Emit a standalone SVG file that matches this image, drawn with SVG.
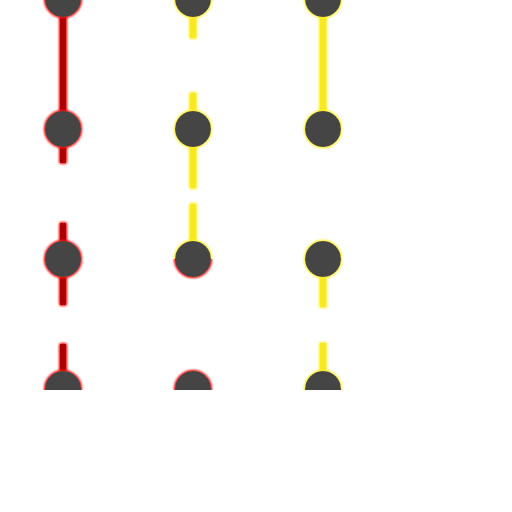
<svg xmlns="http://www.w3.org/2000/svg" width="512" height="512" viewBox="0 0 512 512">
  <defs>
    <filter id="glowR" filterUnits="userSpaceOnUse" x="-20" y="-60" width="552" height="632">
      <feGaussianBlur in="SourceAlpha" stdDeviation="1.5" result="b"/>
      <feFlood flood-color="#ff1a1a"/>
      <feComposite in2="b" operator="in" result="g"/>
      <feMerge><feMergeNode in="g"/><feMergeNode in="g"/><feMergeNode in="g"/><feMergeNode in="SourceGraphic"/></feMerge>
    </filter>
    <filter id="glowY" filterUnits="userSpaceOnUse" x="-20" y="-60" width="552" height="632">
      <feGaussianBlur in="SourceAlpha" stdDeviation="1.5" result="b"/>
      <feFlood flood-color="#fff030"/>
      <feComposite in2="b" operator="in" result="g"/>
      <feMerge><feMergeNode in="g"/><feMergeNode in="g"/><feMergeNode in="g"/><feMergeNode in="SourceGraphic"/></feMerge>
    </filter>
    <clipPath id="view"><rect x="0" y="0" width="512" height="390"/></clipPath>
    <clipPath id="topHalf"><rect x="160" y="220" width="70" height="39"/></clipPath>
    <clipPath id="botHalf"><rect x="160" y="259" width="70" height="40"/></clipPath>
  </defs>
  <style>
    .red { stroke: #aa0000; stroke-width: 6; fill: none; filter: url(#glowR); }
    .yel { stroke: #f8e820; stroke-width: 6; fill: none; filter: url(#glowY); }
    .node { fill: #444444; }
    .nr { filter: url(#glowR); }
    .ny { filter: url(#glowY); }
  </style>
  <rect width="512" height="512" fill="#ffffff"/>
  <g clip-path="url(#view)">
    <g id="connectors">
      <line class="red" x1="63" y1="-1" x2="63" y2="163"/>
      <line class="red" x1="63" y1="223" x2="63" y2="305"/>
      <line class="red" x1="63" y1="344" x2="63" y2="389"/>
      <line class="yel" x1="193" y1="-1" x2="193" y2="38"/>
      <line class="yel" x1="193" y1="93" x2="193" y2="188"/>
      <line class="yel" x1="193" y1="204" x2="193" y2="259"/>
      <line class="yel" x1="323" y1="-1" x2="323" y2="129"/>
      <line class="yel" x1="323" y1="259" x2="323" y2="307"/>
      <line class="yel" x1="323" y1="343" x2="323" y2="389"/>
    </g>
    <g id="n00" class="nr"><circle class="node" cx="63" cy="-1" r="18"/></g>
    <g id="n01" class="ny"><circle class="node" cx="193" cy="-1" r="18"/></g>
    <g id="n02" class="ny"><circle class="node" cx="323" cy="-1" r="18"/></g>
    <g id="n10" class="nr"><circle class="node" cx="63" cy="129" r="18"/></g>
    <g id="n11" class="ny"><circle class="node" cx="193" cy="129" r="18"/></g>
    <g id="n12" class="ny"><circle class="node" cx="323" cy="129" r="18"/></g>
    <g id="n20" class="nr"><circle class="node" cx="63" cy="259" r="18"/></g>
    <g id="n21">
      <g clip-path="url(#botHalf)"><g class="nr"><circle class="node" cx="193" cy="259" r="18"/></g></g>
      <g clip-path="url(#topHalf)"><g class="ny"><circle class="node" cx="193" cy="259" r="18"/></g></g>
    </g>
    <g id="n22" class="ny"><circle class="node" cx="323" cy="259" r="18"/></g>
    <g id="n30" class="nr"><circle class="node" cx="63" cy="389" r="18"/></g>
    <g id="n31" class="nr"><circle class="node" cx="193" cy="389" r="18"/></g>
    <g id="n32" class="ny"><circle class="node" cx="323" cy="389" r="18"/></g>
  </g>
</svg>
